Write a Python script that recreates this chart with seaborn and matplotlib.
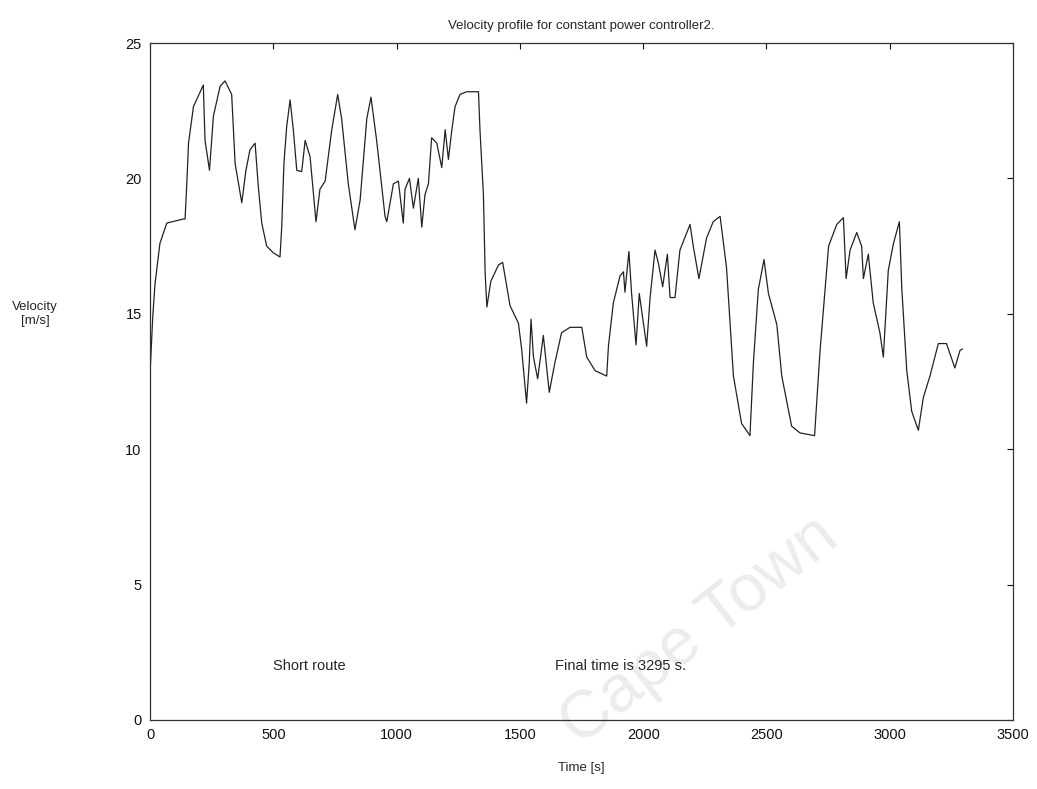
import numpy as np
import pandas as pd
import matplotlib
matplotlib.use("Agg")
import matplotlib.pyplot as plt
import seaborn as sns

# velocity trace (time in s, velocity in m/s)
time_s = [0, 11, 20, 40, 68, 135, 142, 149, 156, 176, 216, 223, 241, 257, 284, 304, 331, 345,
          372, 389, 405, 426, 439, 453, 473, 500, 527, 534, 543, 554, 568, 581, 595, 615, 629,
          649, 660, 673, 689, 710, 737, 761, 777, 804, 831, 852, 879, 896, 919, 953, 960, 987,
          1007, 1027, 1034, 1052, 1068, 1088, 1102, 1115, 1129, 1142, 1163, 1183, 1197, 1210,
          1224, 1237, 1257, 1284, 1332, 1338, 1352, 1359, 1366, 1382, 1413, 1430, 1460, 1494,
          1507, 1527, 1538, 1545, 1555, 1572, 1595, 1619, 1642, 1669, 1703, 1751, 1771, 1805,
          1852, 1859, 1879, 1906, 1920, 1926, 1942, 1953, 1971, 1984, 2014, 2028, 2048, 2061,
          2079, 2098, 2109, 2129, 2149, 2190, 2203, 2226, 2257, 2284, 2312, 2338, 2366, 2399,
          2433, 2447, 2467, 2490, 2508, 2542, 2562, 2602, 2636, 2695, 2717, 2752, 2785, 2812,
          2823, 2839, 2866, 2886, 2893, 2913, 2933, 2960, 2974, 2994, 3015, 3039, 3049, 3069,
          3089, 3116, 3136, 3163, 3197, 3230, 3264, 3285, 3295]
velocity = [12.8, 14.9, 16.1, 17.6, 18.35, 18.5, 18.5, 19.8, 21.3, 22.65, 23.45, 21.4, 20.3,
            22.3, 23.4, 23.6, 23.1, 20.55, 19.1, 20.3, 21.05, 21.3, 19.7, 18.35, 17.5, 17.25,
            17.1, 18.2, 20.55, 21.9, 22.9, 21.8, 20.3, 20.25, 21.4, 20.8, 19.7, 18.4, 19.6,
            19.9, 21.8, 23.1, 22.2, 19.8, 18.1, 19.2, 22.2, 23.0, 21.4, 18.6, 18.4, 19.8, 19.9,
            18.35, 19.6, 20.0, 18.9, 20.0, 18.2, 19.4, 19.8, 21.5, 21.3, 20.4, 21.8, 20.7,
            21.8, 22.65, 23.1, 23.2, 23.2, 21.8, 19.4, 16.5, 15.25, 16.2, 16.8, 16.9, 15.3,
            14.65, 13.7, 11.7, 13.2, 14.8, 13.4, 12.6, 14.2, 12.1, 13.2, 14.3, 14.5, 14.5,
            13.4, 12.9, 12.7, 13.8, 15.4, 16.4, 16.55, 15.8, 17.3, 15.75, 13.85, 15.75, 13.8,
            15.6, 17.35, 16.9, 16.0, 17.2, 15.6, 15.6, 17.35, 18.3, 17.5, 16.3, 17.8, 18.4,
            18.6, 16.7, 12.7, 10.95, 10.5, 13.2, 15.9, 17.0, 15.75, 14.6, 12.7, 10.85, 10.6,
            10.5, 13.6, 17.5, 18.3, 18.55, 16.3, 17.35, 18.0, 17.5, 16.3, 17.2, 15.4, 14.3,
            13.4, 16.6, 17.6, 18.4, 15.9, 12.9, 11.4, 10.7, 11.9, 12.7, 13.9, 13.9, 13.0,
            13.65, 13.7]

x_ticks = [0, 500, 1000, 1500, 2000, 2500, 3000, 3500]
y_ticks = [0, 5, 10, 15, 20, 25]

df = pd.DataFrame({"time": time_s, "velocity": velocity})

sns.set_style("white")
plt.rcParams['font.family'] = ['Liberation Sans', 'DejaVu Sans']

fig = plt.figure(figsize=(10.37, 7.89), dpi=100)

# faint watermark, behind the axes
fig.text(0.675, 0.2, "Cape Town", fontsize=48, color="#ececec", rotation=38,
         ha="center", va="center", zorder=-5)

ax = fig.add_axes([0.1447, 0.0875, 0.8322, 0.858])
ax.set_zorder(2)
ax.patch.set_alpha(0)

sns.lineplot(data=df, x="time", y="velocity", color="#222222", linewidth=0.9, ax=ax,
             estimator=None, sort=False)

ax.set_xlim(0, 3500)
ax.set_ylim(0, 25)
ax.set_xticks(x_ticks)
ax.set_yticks(y_ticks)
ax.tick_params(direction="in", length=4, width=0.8, top=True, right=True,
               labelsize=10.5, colors="#111111", pad=6)
for s in ax.spines.values():
    s.set_visible(True)
    s.set_color("#333333")
    s.set_linewidth(0.9)

ax.set_title("Velocity profile for constant power controller2.", fontsize=9.5, pad=10)
ax.set_xlabel("Time [s]", fontsize=9.5, labelpad=14)
ax.set_ylabel("Velocity\n[m/s]", fontsize=9.5, rotation=0, ha="center", va="center")
ax.yaxis.set_label_coords(-0.133, 0.6)

ax.text(500, 2.0, "Short route", fontsize=10.5, va="center", ha="left")
ax.text(1642, 2.0, "Final time is 3295 s.", fontsize=10.5, va="center", ha="left")

fig.savefig("out.png", dpi=100)
